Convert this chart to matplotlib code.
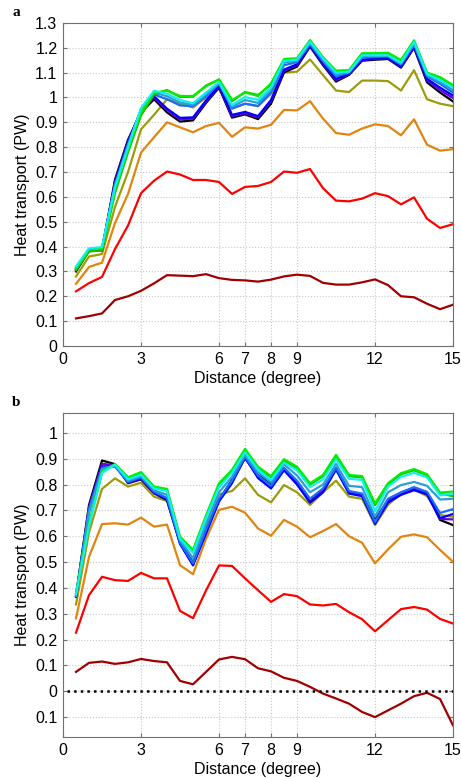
import matplotlib.pyplot as plt
import numpy as np

plt.rcParams['font.family'] = ['Liberation Sans', 'DejaVu Sans']

# distance (degree), one value every half degree
dist = np.arange(1, 31) * 0.5
xticks = [0, 3, 6, 7, 8, 9, 12, 15]

# ---- panel a ----
a_darkred = [0.111, 0.120, 0.131, 0.185, 0.200, 0.222, 0.252, 0.285, 0.283, 0.281, 0.289, 0.273, 0.266, 0.264, 0.259,
             0.267, 0.280, 0.287, 0.282, 0.254, 0.247, 0.247, 0.256, 0.268, 0.245, 0.200, 0.196, 0.170, 0.148, 0.166]
a_red = [0.220, 0.253, 0.278, 0.390, 0.485, 0.615, 0.665, 0.702, 0.690, 0.668, 0.668, 0.660, 0.612, 0.640, 0.644,
         0.660, 0.702, 0.697, 0.712, 0.635, 0.585, 0.582, 0.593, 0.615, 0.603, 0.570, 0.598, 0.512, 0.475, 0.490]
a_orange = [0.250, 0.318, 0.335, 0.495, 0.612, 0.778, 0.840, 0.900, 0.880, 0.860, 0.885, 0.898, 0.842, 0.880, 0.875,
            0.890, 0.950, 0.948, 0.985, 0.915, 0.857, 0.850, 0.875, 0.892, 0.885, 0.848, 0.912, 0.810, 0.786, 0.792]
a_olive = [0.280, 0.360, 0.370, 0.560, 0.700, 0.872, 0.930, 0.993, 0.975, 0.960, 1.000, 1.035, 0.955, 0.975, 0.965,
           1.015, 1.100, 1.104, 1.153, 1.090, 1.028, 1.022, 1.068, 1.068, 1.066, 1.028, 1.110, 0.993, 0.975, 0.965]
a_black = [0.300, 0.383, 0.385, 0.670, 0.830, 0.940, 0.993, 0.940, 0.903, 0.908, 0.978, 1.040, 0.919, 0.932, 0.913,
           0.975, 1.101, 1.124, 1.205, 1.130, 1.064, 1.091, 1.148, 1.152, 1.155, 1.120, 1.200, 1.061, 1.020, 0.984]
a_purple = [0.305, 0.385, 0.388, 0.662, 0.825, 0.945, 1.000, 0.950, 0.912, 0.915, 0.983, 1.045, 0.925, 0.937, 0.920,
            0.985, 1.108, 1.130, 1.208, 1.135, 1.070, 1.094, 1.150, 1.155, 1.158, 1.123, 1.203, 1.070, 1.030, 0.998]
a_blue = [0.308, 0.386, 0.390, 0.656, 0.820, 0.948, 1.005, 0.955, 0.918, 0.920, 0.988, 1.048, 0.930, 0.942, 0.925,
          0.990, 1.112, 1.134, 1.210, 1.138, 1.075, 1.097, 1.152, 1.158, 1.160, 1.126, 1.205, 1.075, 1.040, 1.008]
a_dodger = [0.312, 0.388, 0.392, 0.650, 0.812, 0.952, 1.012, 0.993, 0.968, 0.965, 1.005, 1.055, 0.956, 0.975, 0.966,
            1.020, 1.130, 1.142, 1.215, 1.145, 1.085, 1.100, 1.160, 1.163, 1.165, 1.132, 1.212, 1.085, 1.055, 1.020]
a_sky = [0.316, 0.390, 0.395, 0.645, 0.806, 0.955, 1.020, 1.005, 0.980, 0.970, 1.012, 1.058, 0.962, 0.990, 0.978,
         1.030, 1.140, 1.148, 1.220, 1.152, 1.092, 1.102, 1.165, 1.167, 1.168, 1.136, 1.218, 1.090, 1.062, 1.030]
a_green = [0.305, 0.380, 0.385, 0.615, 0.780, 0.928, 1.012, 1.030, 1.002, 1.003, 1.048, 1.072, 0.985, 1.022, 1.010,
           1.052, 1.150, 1.155, 1.228, 1.160, 1.105, 1.108, 1.175, 1.176, 1.177, 1.148, 1.226, 1.098, 1.080, 1.048]
a_lime = [0.312, 0.388, 0.392, 0.625, 0.790, 0.940, 1.020, 1.027, 1.006, 1.006, 1.045, 1.073, 0.990, 1.020, 1.006,
          1.057, 1.155, 1.158, 1.231, 1.162, 1.108, 1.110, 1.178, 1.178, 1.180, 1.151, 1.230, 1.100, 1.082, 1.050]
a_cyan = [0.320, 0.393, 0.398, 0.640, 0.800, 0.957, 1.027, 1.015, 0.990, 0.977, 1.020, 1.062, 0.970, 1.002, 0.990,
          1.040, 1.148, 1.152, 1.225, 1.158, 1.100, 1.104, 1.170, 1.170, 1.170, 1.140, 1.224, 1.095, 1.070, 1.040]

# ---- panel b ----
b_darkred = [0.075, 0.110, 0.115, 0.106, 0.112, 0.125, 0.117, 0.112, 0.040, 0.027, 0.075, 0.123, 0.133, 0.124, 0.089,
             0.077, 0.052, 0.040, 0.017, -0.009, -0.028, -0.048, -0.080, -0.100, -0.074, -0.048, -0.019, -0.006,
             -0.030, -0.132]
b_red = [0.227, 0.372, 0.443, 0.430, 0.427, 0.458, 0.437, 0.437, 0.311, 0.283, 0.390, 0.487, 0.485, 0.437, 0.391,
         0.346, 0.376, 0.368, 0.336, 0.332, 0.338, 0.306, 0.279, 0.232, 0.275, 0.318, 0.326, 0.316, 0.280, 0.262]
b_orange = [0.282, 0.520, 0.647, 0.650, 0.645, 0.672, 0.637, 0.645, 0.488, 0.453, 0.590, 0.702, 0.714, 0.691, 0.630,
            0.602, 0.663, 0.637, 0.596, 0.620, 0.647, 0.600, 0.575, 0.495, 0.549, 0.598, 0.607, 0.596, 0.547, 0.501]
b_olive = [0.336, 0.615, 0.783, 0.824, 0.792, 0.807, 0.753, 0.736, 0.573, 0.501, 0.640, 0.762, 0.775, 0.824, 0.760,
           0.731, 0.798, 0.770, 0.721, 0.770, 0.815, 0.753, 0.745, 0.643, 0.721, 0.766, 0.782, 0.755, 0.682, 0.675]
b_black = [0.370, 0.721, 0.893, 0.879, 0.805, 0.820, 0.766, 0.740, 0.580, 0.495, 0.620, 0.740, 0.818, 0.902, 0.837,
           0.805, 0.863, 0.811, 0.734, 0.779, 0.863, 0.773, 0.762, 0.663, 0.740, 0.769, 0.786, 0.767, 0.663, 0.643]
b_purple = [0.368, 0.712, 0.880, 0.875, 0.808, 0.822, 0.768, 0.742, 0.575, 0.490, 0.615, 0.738, 0.812, 0.903, 0.832,
            0.795, 0.860, 0.806, 0.732, 0.775, 0.860, 0.770, 0.758, 0.655, 0.735, 0.765, 0.782, 0.765, 0.667, 0.665]
b_blue = [0.365, 0.700, 0.870, 0.872, 0.810, 0.825, 0.770, 0.742, 0.570, 0.487, 0.610, 0.735, 0.805, 0.905, 0.825,
          0.785, 0.855, 0.800, 0.730, 0.770, 0.858, 0.765, 0.755, 0.648, 0.730, 0.760, 0.778, 0.762, 0.670, 0.686]
b_dodger = [0.368, 0.705, 0.865, 0.870, 0.810, 0.828, 0.772, 0.748, 0.575, 0.495, 0.625, 0.745, 0.815, 0.908, 0.835,
            0.795, 0.865, 0.815, 0.745, 0.785, 0.865, 0.775, 0.765, 0.655, 0.745, 0.770, 0.790, 0.772, 0.690, 0.705]
b_steel = [0.370, 0.690, 0.860, 0.875, 0.815, 0.832, 0.778, 0.760, 0.585, 0.515, 0.650, 0.770, 0.830, 0.915, 0.848,
           0.808, 0.878, 0.835, 0.770, 0.800, 0.880, 0.795, 0.790, 0.676, 0.770, 0.798, 0.810, 0.795, 0.742, 0.745]
b_green = [0.378, 0.645, 0.848, 0.878, 0.826, 0.846, 0.790, 0.780, 0.595, 0.543, 0.676, 0.800, 0.852, 0.932, 0.864,
           0.828, 0.892, 0.864, 0.800, 0.832, 0.910, 0.832, 0.828, 0.720, 0.800, 0.840, 0.855, 0.836, 0.765, 0.755]
b_lime = [0.380, 0.650, 0.850, 0.879, 0.828, 0.848, 0.792, 0.783, 0.598, 0.547, 0.680, 0.805, 0.857, 0.938, 0.869,
          0.833, 0.898, 0.869, 0.805, 0.837, 0.915, 0.837, 0.833, 0.727, 0.805, 0.844, 0.860, 0.840, 0.769, 0.773]
b_cyan = [0.375, 0.640, 0.845, 0.877, 0.820, 0.838, 0.785, 0.775, 0.590, 0.535, 0.670, 0.790, 0.845, 0.925, 0.858,
          0.818, 0.885, 0.855, 0.790, 0.820, 0.897, 0.822, 0.818, 0.697, 0.792, 0.830, 0.845, 0.828, 0.758, 0.765]

colors = ['#a00000', '#ff0000', '#e0850f', '#9c9c0c', '#000000', '#6a00e6', '#0000ff',
          '#1a6cff', '#2aa0d8', '#30b000', '#00f000', '#10f0f0']

series_a = [a_darkred, a_red, a_orange, a_olive, a_black, a_purple, a_blue, a_dodger, a_sky, a_green, a_lime, a_cyan]
series_b = [b_darkred, b_red, b_orange, b_olive, b_black, b_purple, b_blue, b_dodger, b_steel, b_green, b_lime, b_cyan]

fig = plt.figure(figsize=(4.61, 7.78), dpi=100)
ax1 = fig.add_axes([0.1367, 0.5553, 0.846, 0.4152])
ax2 = fig.add_axes([0.1367, 0.0527, 0.846, 0.4165])


def style(ax):
    ax.set_xlim(0, 15)
    ax.set_xticks(xticks)
    ax.grid(True, color='#c8c8c8', linestyle=':', linewidth=0.8)
    ax.set_axisbelow(True)
    ax.tick_params(direction='in', top=True, right=True, labelsize=11.5, length=3,
                   color='#707070', pad=4)
    for s in ax.spines.values():
        s.set_color('#707070')
    ax.set_xlabel('Distance (degree)', fontsize=11.5, labelpad=3)
    ax.set_ylabel('Heat transport (PW)', fontsize=11.5, labelpad=4)


for vals, c in zip(series_a, colors):
    ax1.plot(dist, vals, color=c, lw=1.6)
style(ax1)
ax1.set_ylim(0, 1.3)
yt1 = np.round(np.arange(0, 1.31, 0.1), 1)
ax1.set_yticks(yt1)
ax1.set_yticklabels(['0', '0.1', '0.2', '0.3', '0.4', '0.5', '0.6', '0.7', '0.8', '0.9', '1', '1.1', '1.2', '1.3'])

for vals, c in zip(series_b, colors):
    ax2.plot(dist, vals, color=c, lw=1.6)
ax2.hlines(0, 0.15, 15, colors='black', linestyles=':', lw=1.8, zorder=5)
style(ax2)
ax2.set_ylim(-0.177, 1.077)
yt2 = np.round(np.arange(-0.1, 1.01, 0.1), 1)
ax2.set_yticks(yt2)
ax2.set_yticklabels(['0.1', '0', '0.1', '0.2', '0.3', '0.4', '0.5', '0.6', '0.7', '0.8', '0.9', '1'])

fig.text(12 / 461, 1 - 12 / 778, 'a', fontsize=11, fontweight='bold', family='Liberation Serif', va='center')
fig.text(12 / 461, 1 - 402 / 778, 'b', fontsize=11, fontweight='bold', family='Liberation Serif', va='center')

fig.savefig('out.png', dpi=100)
